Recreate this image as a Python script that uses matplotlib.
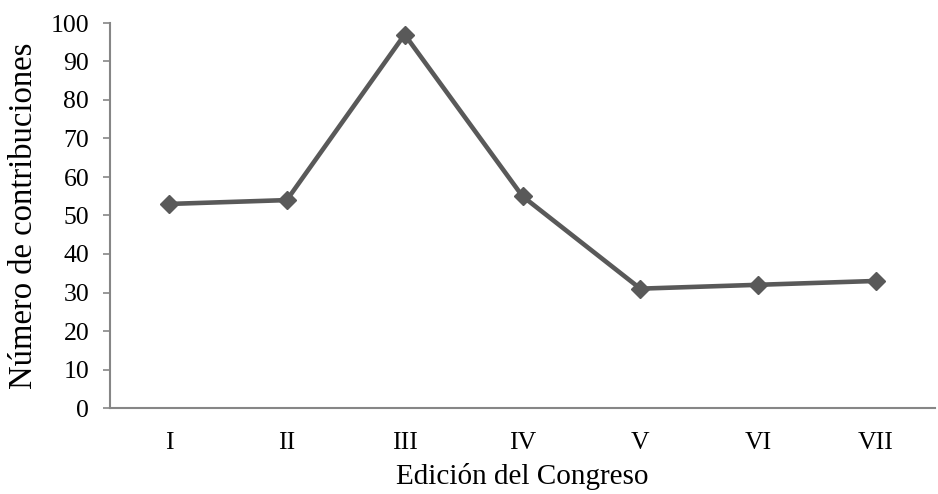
import matplotlib
matplotlib.use("Agg")
import matplotlib.pyplot as plt

categories = ["I", "II", "III", "IV", "V", "VI", "VII"]
values = [53, 54, 97, 55, 31, 32, 33]
yticks = list(range(0, 101, 10))

plt.rcParams['font.family'] = ['Liberation Serif', 'DejaVu Serif']

fig = plt.figure(figsize=(9.38, 4.94), dpi=100)
ax = fig.add_axes([110/938, 1 - 408/494, (935-110)/938, (408-23)/494])

x = list(range(len(categories)))
ax.plot(x, values, color="#595959", linewidth=3.3, marker="D", markersize=9.5,
        markerfacecolor="#595959", markeredgecolor="#595959", zorder=3,
        clip_on=False)

ax.set_xlim(-0.5, len(categories) - 0.5)
ax.set_ylim(0, 100)
ax.set_yticks(yticks)
ax.set_xticks(x)
ax.set_xticklabels(categories)

for s in ["top", "right"]:
    ax.spines[s].set_visible(False)
for s in ["left", "bottom"]:
    ax.spines[s].set_color("#868686")
    ax.spines[s].set_linewidth(1.5)

ax.tick_params(axis="y", direction="out", length=5, width=1.2, color="#868686",
               labelsize=18.5, pad=10)
ax.tick_params(axis="x", length=0, labelsize=18.5, pad=17)

ax.set_xlabel("Edición del Congreso", fontsize=21, labelpad=7)
ax.set_ylabel("Número de contribuciones", fontsize=23.5, labelpad=8)

fig.savefig("out.png", dpi=100)
